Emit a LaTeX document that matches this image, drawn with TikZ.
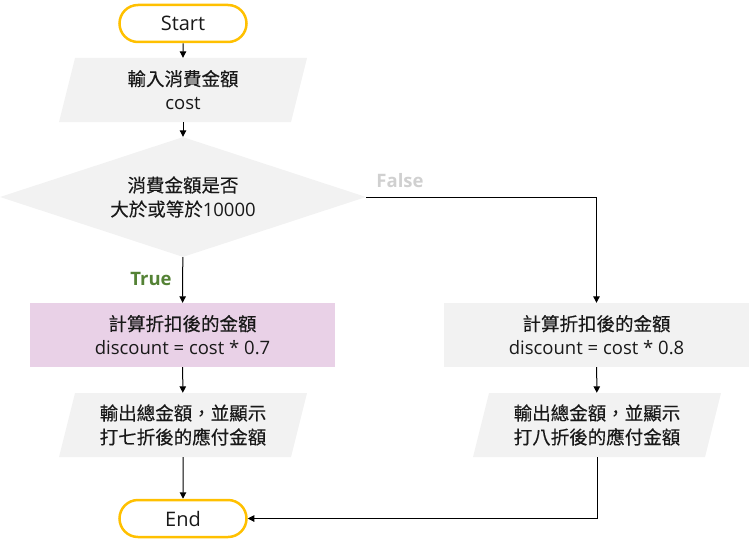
\documentclass[tikz,border=0pt]{standalone}
\usepackage{fontspec}
\setmainfont{Open Sans}
\newfontfamily\cjk[Script=CJK,Language=Chinese Traditional,FakeBold=0.25]{Noto Sans CJK TC}
\usetikzlibrary{shapes.geometric,shapes.misc,arrows.meta}
\definecolor{termY}{HTML}{FFC000}
\definecolor{grayF}{HTML}{F2F2F2}
\definecolor{pinkF}{HTML}{E9D1E7}
\definecolor{trueG}{HTML}{548235}
\definecolor{falseG}{HTML}{D0D0D0}
\begin{document}
\begin{tikzpicture}[x=1pt,y=-1pt,
  every node/.style={font=\fontsize{18.5}{24}\selectfont, text=black!90},
  term/.style={rounded rectangle, draw=termY, line width=2.5pt, minimum width=127pt, minimum height=37pt, inner sep=0pt, font=\fontsize{20}{24}\selectfont},
  proc/.style={rectangle, minimum width=305pt, minimum height=64pt, align=center, inner sep=0pt},
  dec/.style={diamond, aspect=3.05, fill=grayF, minimum width=366pt, minimum height=120pt, inner sep=0pt, align=center},
  io/.style={rectangle, minimum width=217pt, minimum height=64pt, align=center, inner sep=0pt},
  arr/.style={-{Triangle[length=6.5pt,width=6.5pt]}, line width=1pt},
  lbl/.style={font=\fontsize{18.5}{20}\selectfont\bfseries}
]
\useasboundingbox (0,0) rectangle (754,543);
% parallelogram backgrounds
\fill[grayF] (75,58) -- (307,58) -- (291,122) -- (59,122) -- cycle;
\fill[grayF] (75,393) -- (307,393) -- (291,457) -- (59,457) -- cycle;
\fill[grayF] (489,393) -- (721,393) -- (705,457) -- (473,457) -- cycle;

\node[term] (start) at (183,23.5) {Start};
\node[io] (in) at (183,90) {{\cjk 輸入消費金額}\\cost};
\node[dec] (dec) at (183,197) {{\cjk 消費金額是否}\\{\cjk 大於或等於}10000};
\node[proc, fill=pinkF] (p1) at (182.5,335) {{\cjk 計算折扣後的金額}\\discount = cost * 0.7};
\node[proc, fill=grayF] (p2) at (596.5,335) {{\cjk 計算折扣後的金額}\\discount = cost * 0.8};
\node[io] (o1) at (183,425) {{\cjk 輸出總金額，並顯示}\\{\cjk 打七折後的應付金額}};
\node[io] (o2) at (597,425) {{\cjk 輸出總金額，並顯示}\\{\cjk 打八折後的應付金額}};
\node[term] (end) at (183,518.5) {End};

\node[lbl, text=falseG] (flbl) at (400,181) {False};
\node[lbl, text=trueG] (tlbl) at (151,279) {True};

\draw[arr] (start) -- (in);
\draw[arr] (in) -- (dec);
\draw[arr] (dec) -- (p1);
\draw[arr] (dec.east) -| (p2);
\draw[arr] (p1) -- (o1);
\draw[arr] (p2) -- (o2);
\draw[arr] (o1) -- (end);
\draw[arr] (o2) |- (end);
\end{tikzpicture}
\end{document}
